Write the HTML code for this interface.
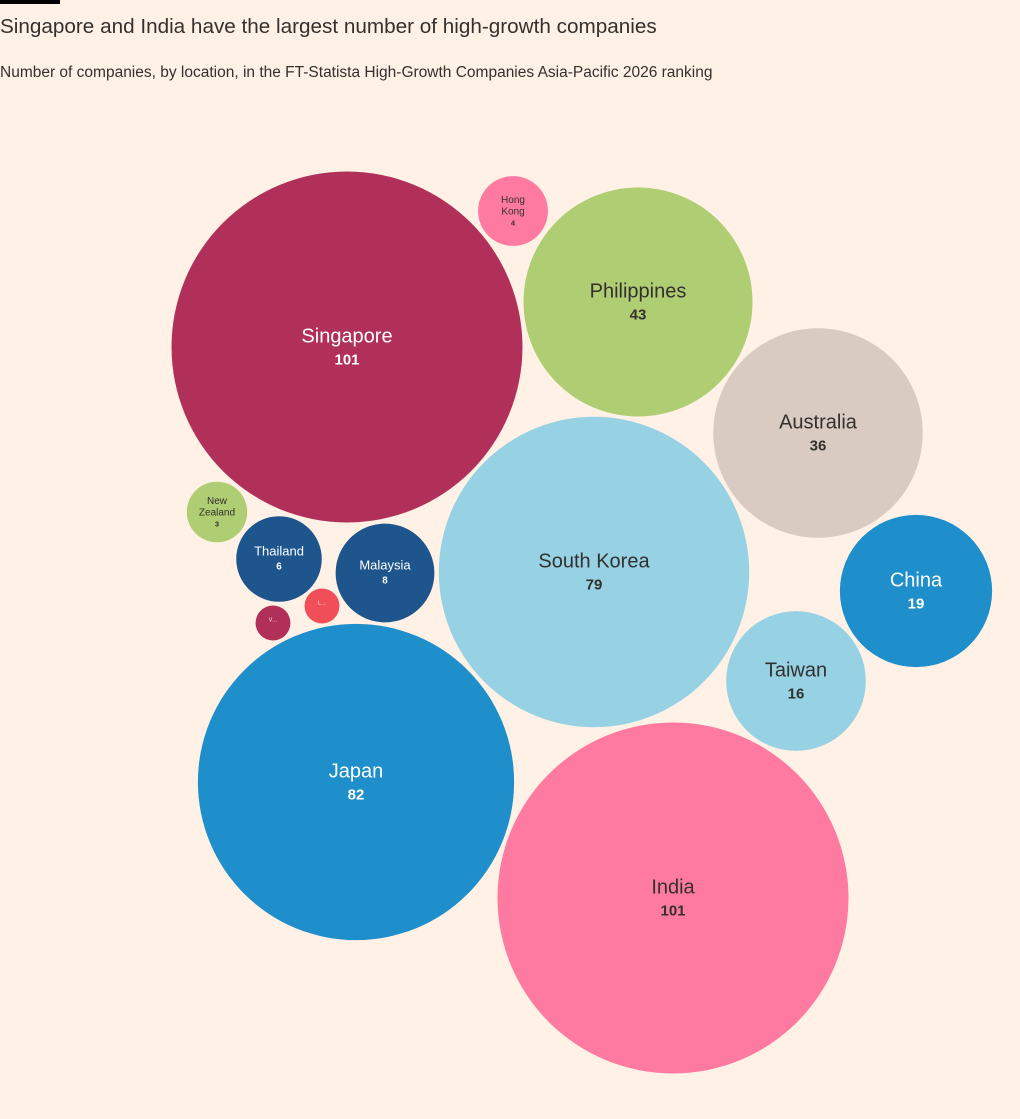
<!DOCTYPE html>
<html><head><meta charset="utf-8"><style>
body{margin:0;background:#fff1e5;font-family:"Liberation Sans",sans-serif;}
#bar{position:absolute;left:0;top:0;width:60px;height:4px;background:#000;}
#title{position:absolute;left:0;top:15px;font-size:20.7px;color:#33302e;}
#sub{position:absolute;left:0;top:64px;font-size:15.5px;color:#33302e;}
svg{position:absolute;left:0;top:0;}
</style></head><body>
<div id="bar"></div>
<div id="title">Singapore and India have the largest number of high-growth companies</div>
<div id="sub">Number of companies, by location, in the FT-Statista High-Growth Companies Asia-Pacific 2026 ranking</div>
<svg id="chart" width="1020" height="1119"></svg>
<script>
const names=["Singapore","India","Japan","South Korea","Philippines","Australia","China","Taiwan","Hong Kong","New Zealand","Thailand","Malaysia","V…","L…"];
const values=[101,101,82,79,43,36,19,16,4,3,6,8,1,1];
const colors=["#b13059","#ff7aa0","#1f8fcc","#96d2e4","#afcd73","#d9cbc1","#1f8fcc","#96d2e4","#ff7aa0","#afcd73","#1e558c","#1e558c","#b13059","#f04e59"];
const dark=[false,true,false,true,true,true,false,true,true,true,false,false,false,false];
const cx=[347,673,356,594,638,818,916,796,513,217,279,385,273,322];
const cy=[347,898,782,572,302,433,591,681,211,512,559,573,623,606];
const rScale=v=>17.46*Math.sqrt(v);
const svg=document.getElementById('chart');const NS="http://www.w3.org/2000/svg";
names.forEach((n,i)=>{
 const r=rScale(values[i]);
 const c=document.createElementNS(NS,'circle');
 c.setAttribute('cx',cx[i]);c.setAttribute('cy',cy[i]);c.setAttribute('r',r);c.setAttribute('fill',colors[i]);
 
 
 svg.appendChild(c);
 const col=dark[i]?"#33302e":"#ffffff";
 let fs=r>60?20:r>40?13:r>25?10:5;
 const lines=(r<40&&n.includes(' '))?n.split(' '):[n];
 const total=lines.length*fs*1.15+fs*0.8;
 let y=cy[i]-total/2+fs*0.85-(r>40?2:1);
 lines.forEach(l=>{
  const t=document.createElementNS(NS,'text');
  t.setAttribute('x',cx[i]);t.setAttribute('y',y);t.setAttribute('text-anchor','middle');
  t.setAttribute('font-size',fs);t.setAttribute('fill',col);t.textContent=l;
  t.setAttribute('font-family','Liberation Sans, sans-serif');
  
  
  svg.appendChild(t);y+=fs*1.15;
 });
 if(r>15&&values[i]>1){
  const t=document.createElementNS(NS,'text');
  t.setAttribute('x',cx[i]);t.setAttribute('y',y-fs*0.05);t.setAttribute('text-anchor','middle');
  t.setAttribute('font-size',fs*0.75);t.setAttribute('font-weight','bold');t.setAttribute('fill',col);
  t.setAttribute('font-family','Liberation Sans, sans-serif');t.textContent=values[i];
  
  
  svg.appendChild(t);
 }
});
</script>
</body></html>
